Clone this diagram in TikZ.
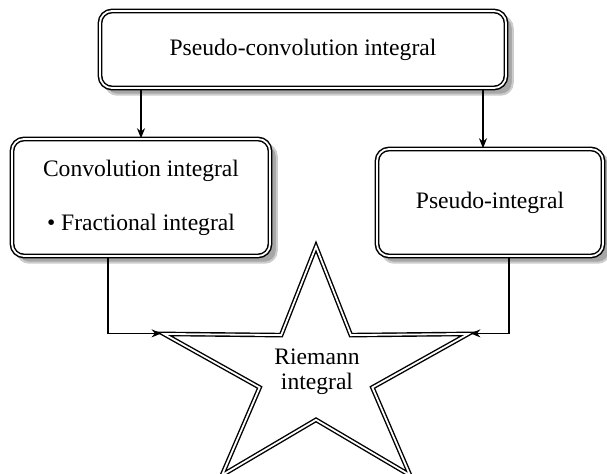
\documentclass[tikz,border=0pt]{standalone}
\usepackage{fontspec}
\setmainfont{Liberation Serif}
\usetikzlibrary{arrows.meta, shapes.geometric, backgrounds}
\tikzset{
  boxnode/.style={draw, rounded corners=6pt, double, double distance=0.9pt,
                  line width=0.75pt, fill=white, align=center,
                  font=\fontsize{11.8}{14}\selectfont},
  shadowbox/.style={fill=gray!70, draw=gray!40, line width=1pt, rounded corners=6pt},
  starnode/.style={star, star points=5, star point ratio=2.7, draw, double,
                   double distance=0.9pt, line width=0.7pt, inner sep=0pt,
                   minimum size=160pt},
  ar/.style={-{Stealth[length=5pt, width=4pt]}, line width=0.6pt},
}
\begin{document}
\begin{tikzpicture}[x=0.5pt, y=-0.5pt]
  \useasboundingbox (0,0) rectangle (607,474);
  \node[boxnode, minimum width=203pt, minimum height=38.5pt] (pconv) at (303,49.5) {Pseudo-convolution integral};
  \node[boxnode, minimum width=129pt, minimum height=58.5pt] (conv) at (141,197.5) {Convolution integral\\[13pt]\textbullet{} Fractional integral};
  \node[boxnode, minimum width=113pt, minimum height=53.5pt] (pint) at (490,202.5) {Pseudo-integral};
  \begin{scope}[shift={(316,373)}, yscale=0.79]
    \node[starnode, transform shape] (riemann) at (0,0) {};
  \end{scope}
  \node[font=\fontsize{11.8}{12.5}\selectfont, align=center] (riemanntxt) at (317,372) {Riemann\\integral};

  % shadows behind the boxes
  \begin{scope}[on background layer]
    \foreach \n in {pconv, conv, pint}
      \draw[shadowbox] ([shift={(3pt,-3pt)}]\n.south west) rectangle ([shift={(3pt,-3pt)}]\n.north east);
  \end{scope}

  \coordinate (pin) at ([xshift=-3.5pt]pint.north);
  \draw[ar] (conv.north |- pconv.south) -- (conv.north);
  \draw[ar] (pin |- pconv.south) -- (pin);
  \draw[ar] ([xshift=-16.5pt]conv.south) |- (riemann.outer point 2);
  \draw[ar] ([xshift=9.5pt]pint.south) |- (riemann.outer point 5);
\end{tikzpicture}
\end{document}
